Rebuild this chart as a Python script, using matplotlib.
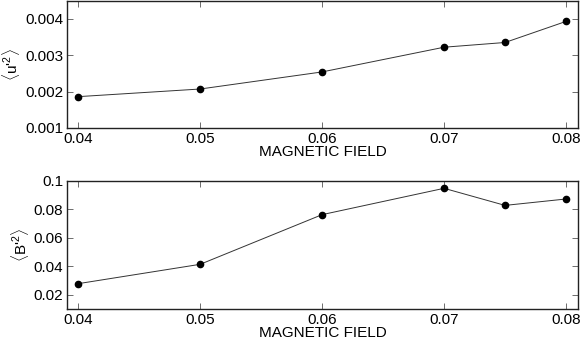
import numpy as np
import matplotlib
matplotlib.use('Agg')
import matplotlib.pyplot as plt

plt.rcParams['font.family'] = ['Liberation Sans', 'DejaVu Sans']
plt.rcParams['mathtext.fontset'] = 'custom'
plt.rcParams['mathtext.rm'] = 'Liberation Sans'
plt.rcParams['mathtext.it'] = 'Liberation Sans'

# magnetic field values
field = [0.04, 0.05, 0.06, 0.07, 0.075, 0.08]
# velocity fluctuations <u'^2>
u2 = [0.00186, 0.00207, 0.00254, 0.00322, 0.00335, 0.00393]
# magnetic fluctuations <B'^2>
b2 = [0.0278, 0.0414, 0.0763, 0.0948, 0.0828, 0.0873]

xticks = [0.04, 0.05, 0.06, 0.07, 0.08]
xticklabels = ['0.04', '0.05', '0.06', '0.07', '0.08']

fig = plt.figure(figsize=(5.82, 3.42), dpi=100)
ax1 = fig.add_axes([0.1155, 0.626, 0.878, 0.372])
ax2 = fig.add_axes([0.1155, 0.0965, 0.878, 0.3745])


def style(ax):
    ax.set_xlim(0.0391, 0.0810)
    ax.set_xticks(xticks)
    ax.set_xticklabels(xticklabels)
    ax.tick_params(direction='in', top=True, right=True, length=4,
                   width=0.6, labelsize=11, pad=3, color='#555555')
    for s in ax.spines.values():
        s.set_linewidth(1.0)
        s.set_color('#222222')
    ax.set_xlabel('MAGNETIC FIELD', fontsize=11, labelpad=-1)


ax1.plot(field, u2, '-o', color='#333333', lw=0.7,
         markersize=4.5, markerfacecolor='black', markeredgecolor='black')
style(ax1)
ax1.set_ylim(0.001, 0.0045)
ax1.set_yticks([0.001, 0.002, 0.003, 0.004])
ax1.set_yticklabels(['0.001', '0.002', '0.003', '0.004'])
ax1.set_ylabel(r"$\langle$u'$^2\rangle$", fontsize=11, labelpad=2)

ax2.plot(field, b2, '-o', color='#333333', lw=0.7,
         markersize=4.5, markerfacecolor='black', markeredgecolor='black')
style(ax2)
ax2.set_ylim(0.01, 0.1)
ax2.set_yticks([0.02, 0.04, 0.06, 0.08, 0.1])
ax2.set_yticklabels(['0.02', '0.04', '0.06', '0.08', '0.1'])
ax2.set_ylabel(r"$\langle$B'$^2\rangle$", fontsize=11, labelpad=2)

fig.savefig('out.png', dpi=100)
